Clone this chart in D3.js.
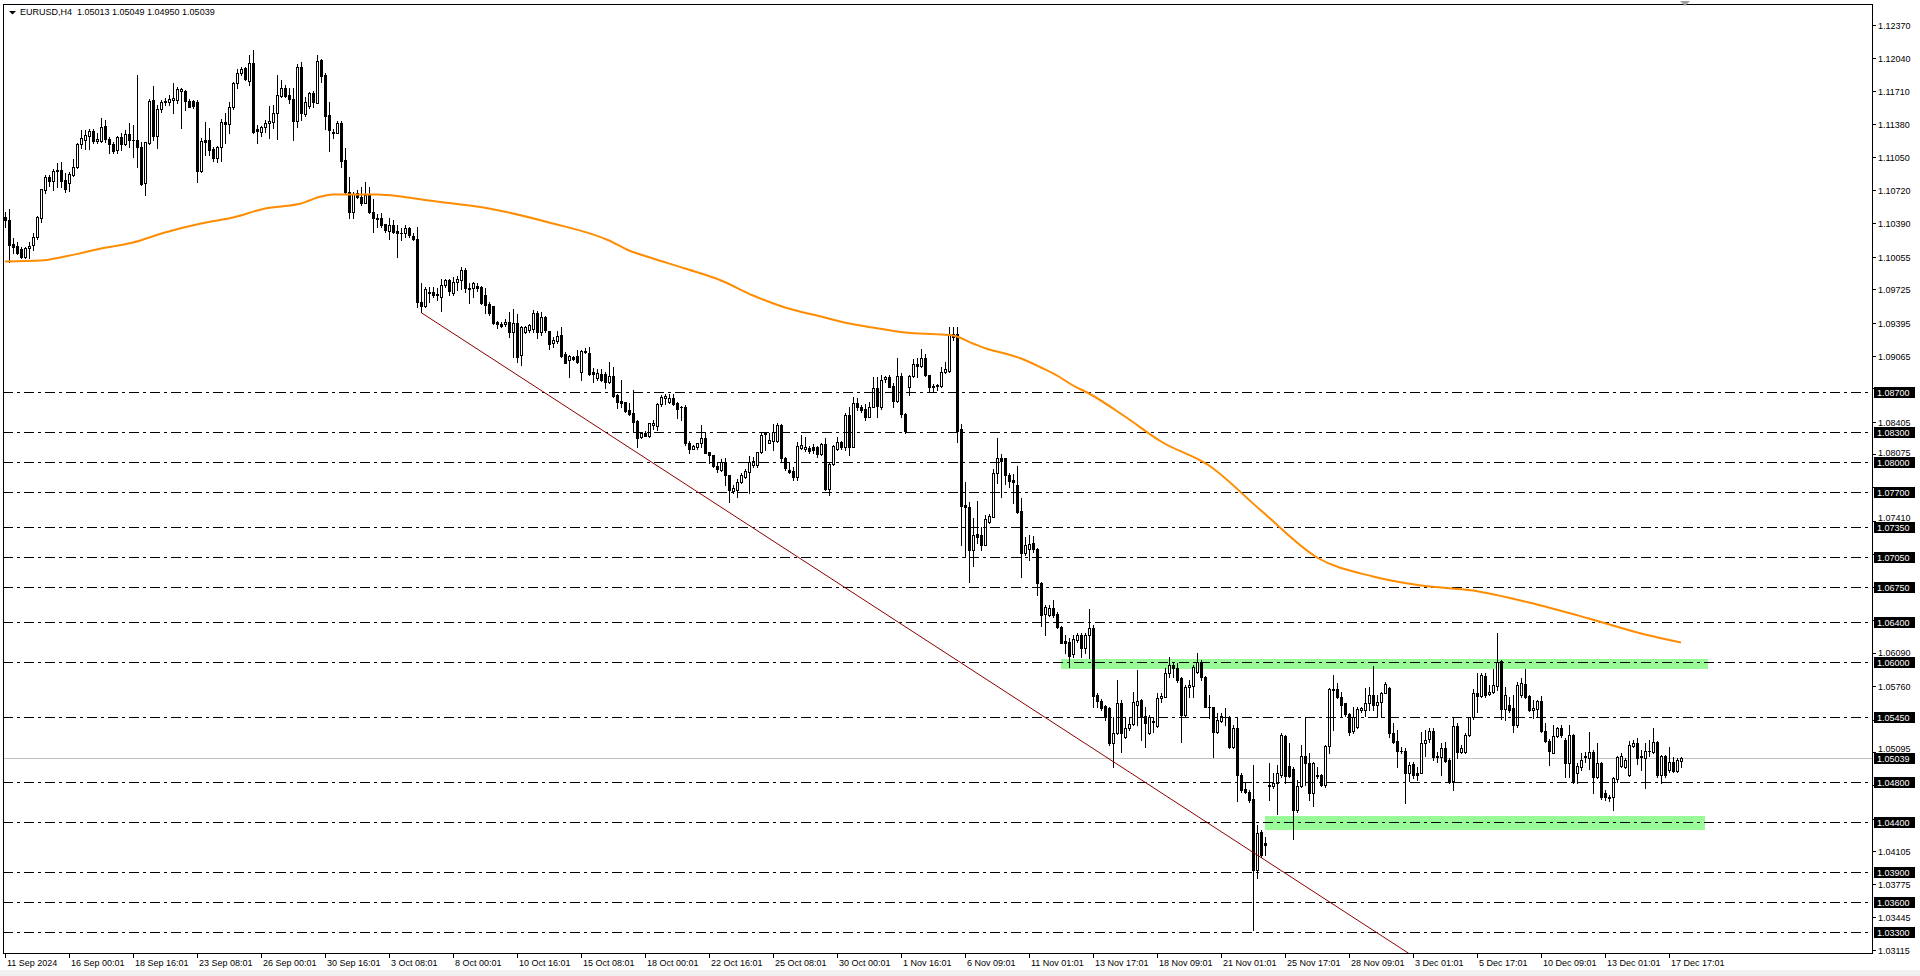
<!DOCTYPE html>
<html><head><meta charset="utf-8">
<script src="https://cdn.jsdelivr.net/npm/d3@7/dist/d3.min.js"></script>
<style>
body{margin:0;background:#fff;overflow:hidden}
svg{display:block}
text{font-family:"Liberation Sans",Arial,sans-serif;font-size:9px}
</style></head><body>
<svg id="chart" width="1920" height="976"></svg>
<script>
// ---------- DATA (prices in pips: 11045 = 1.1045) ----------
const symbolTitle = "EURUSD,H4";
const lastBarText = ["1.05013", "1.05049", "1.04950", "1.05039"];
const open = [11045,11042,11018,11016,11013,11005,11014,11017,11025,11044,11072,11085,11081,11091,11092,11082,11079,11087,11095,11118,11122,11126,11131,11121,11121,11136,11123,11118,11112,11125,11118,11128,11122,11122,11115,11079,11119,11162,11126,11153,11160,11160,11162,11162,11171,11171,11161,11161,11160,11091,11122,11122,11113,11104,11115,11140,11138,11155,11179,11189,11194,11181,11199,11133,11130,11135,11139,11140,11149,11166,11174,11167,11163,11141,11195,11148,11156,11169,11159,11202,11187,11147,11130,11129,11139,11102,11070,11050,11069,11065,11059,11068,11050,11044,11044,11038,11031,11037,11031,11029,11029,11034,11026,11023,10960,10956,10970,10970,10967,10965,10977,10982,10969,10980,10982,10992,10974,10974,10976,10975,10967,10958,10956,10940,10938,10938,10940,10930,10939,10907,10930,10932,10933,10949,10930,10945,10931,10919,10921,10927,10908,10902,10905,10906,10890,10910,10909,10890,10884,10888,10888,10880,10886,10867,10861,10860,10852,10849,10841,10825,10829,10826,10837,10836,10858,10864,10860,10864,10859,10855,10855,10819,10813,10815,10819,10824,10810,10807,10796,10792,10800,10787,10771,10772,10780,10785,10790,10797,10797,10810,10829,10819,10821,10821,10837,10804,10792,10791,10785,10814,10813,10814,10815,10815,10808,10818,10773,10798,10813,10820,10815,10847,10815,10859,10855,10853,10845,10855,10874,10855,10883,10885,10876,10861,10886,10848,10875,10886,10898,10896,10904,10887,10876,10877,10876,10890,10891,10928,10928,10833,10757,10755,10712,10728,10727,10717,10740,10745,10789,10804,10804,10787,10782,10777,10751,10709,10713,10719,10713,10679,10648,10647,10654,10648,10635,10621,10620,10608,10622,10627,10614,10627,10634,10567,10561,10556,10554,10519,10529,10559,10525,10534,10538,10557,10562,10546,10529,10540,10536,10564,10565,10589,10597,10594,10584,10547,10575,10576,10590,10600,10585,10555,10555,10530,10541,10545,10545,10515,10534,10487,10473,10470,10463,10392,10430,10419,10477,10476,10479,10487,10526,10496,10493,10452,10476,10506,10499,10469,10487,10487,10477,10516,10572,10573,10565,10559,10548,10531,10535,10552,10552,10559,10567,10557,10560,10569,10574,10529,10521,10511,10511,10489,10498,10489,10489,10519,10523,10531,10506,10505,10514,10502,10481,10536,10510,10510,10527,10545,10569,10566,10586,10568,10570,10576,10601,10553,10557,10554,10537,10567,10578,10566,10552,10553,10561,10531,10521,10509,10526,10534,10522,10499,10527,10489,10495,10506,10504,10510,10485,10499,10469,10465,10465,10483,10496,10495,10487,10516,10519,10506,10504,10511,10510,10520,10487,10506,10492,10500,10491,10501];
const high = [11050,11053,11024,11020,11015,11015,11020,11029,11046,11073,11087,11087,11093,11099,11100,11089,11090,11103,11119,11132,11132,11133,11133,11129,11144,11142,11125,11120,11126,11129,11132,11139,11137,11187,11120,11120,11163,11176,11157,11162,11164,11167,11179,11175,11174,11172,11163,11162,11162,11124,11140,11134,11115,11116,11143,11149,11160,11180,11193,11195,11195,11207,11212,11137,11136,11142,11156,11157,11187,11182,11177,11174,11174,11198,11200,11165,11170,11171,11207,11203,11189,11160,11133,11141,11141,11114,11085,11070,11072,11075,11080,11075,11063,11048,11049,11038,11044,11042,11037,11034,11037,11035,11029,11035,10979,10975,10975,10975,10974,10983,10983,10983,10985,10986,10995,10994,10979,10980,10979,10976,10974,10960,10956,10941,10940,10943,10950,10953,10948,10936,10936,10938,10952,10951,10950,10946,10931,10925,10931,10935,10910,10907,10906,10912,10912,10914,10915,10894,10893,10893,10890,10900,10895,10868,10882,10860,10859,10872,10842,10830,10831,10839,10842,10859,10867,10868,10868,10868,10860,10856,10857,10821,10817,10819,10837,10829,10810,10807,10799,10803,10804,10787,10777,10783,10789,10793,10806,10805,10810,10829,10829,10829,10838,10839,10838,10805,10799,10795,10820,10827,10825,10816,10818,10816,10819,10824,10799,10817,10825,10821,10849,10855,10865,10864,10857,10858,10860,10885,10885,10887,10886,10887,10879,10904,10889,10849,10887,10903,10904,10913,10908,10887,10878,10878,10895,10900,10935,10935,10935,10838,10780,10760,10744,10761,10735,10747,10748,10793,10824,10808,10804,10789,10788,10796,10764,10725,10727,10726,10714,10680,10657,10657,10662,10650,10636,10627,10624,10627,10629,10629,10629,10653,10637,10569,10563,10557,10555,10545,10582,10562,10545,10545,10570,10592,10563,10555,10547,10545,10569,10569,10594,10605,10600,10599,10585,10577,10582,10597,10609,10602,10586,10567,10555,10549,10549,10554,10546,10537,10545,10489,10479,10472,10497,10437,10432,10425,10499,10489,10497,10529,10527,10519,10495,10482,10517,10545,10509,10500,10495,10488,10517,10574,10587,10579,10570,10559,10549,10555,10555,10555,10574,10575,10596,10567,10570,10580,10575,10539,10532,10515,10514,10500,10500,10495,10530,10532,10534,10534,10510,10519,10520,10504,10545,10539,10517,10529,10545,10573,10589,10589,10589,10577,10593,10629,10602,10575,10565,10567,10580,10584,10593,10567,10562,10562,10566,10539,10523,10537,10535,10537,10524,10537,10528,10499,10509,10510,10530,10512,10519,10500,10472,10467,10485,10506,10509,10504,10521,10522,10524,10512,10519,10522,10534,10521,10507,10507,10515,10505,10504,10505];
const low = [11035,11000,11009,11008,11004,11004,11004,11012,11023,11040,11069,11076,11072,11075,11075,11070,11071,11086,11094,11114,11113,11113,11119,11119,11120,11120,11109,11109,11109,11112,11117,11115,11105,11095,11077,11067,11118,11122,11114,11150,11157,11157,11149,11159,11134,11152,11155,11154,11080,11090,11107,11107,11101,11100,11101,11119,11129,11153,11174,11187,11182,11177,11129,11119,11126,11130,11124,11134,11123,11165,11165,11159,11122,11135,11142,11146,11154,11155,11159,11180,11133,11111,11124,11129,11095,11069,11044,11044,11064,11057,11059,11049,11030,11035,11035,11030,11023,11029,11005,11022,11025,11025,11022,10955,10950,10955,10960,10965,10962,10951,10975,10967,10967,10972,10973,10970,10959,10965,10971,10958,10949,10947,10938,10934,10935,10936,10925,10905,10900,10897,10929,10930,10930,10924,10927,10930,10913,10915,10919,10905,10899,10885,10902,10899,10882,10909,10887,10880,10882,10881,10874,10879,10865,10854,10855,10850,10847,10830,10815,10824,10826,10825,10833,10832,10856,10858,10859,10857,10844,10842,10817,10809,10813,10813,10815,10809,10799,10795,10790,10791,10777,10760,10769,10765,10779,10784,10769,10795,10795,10809,10812,10819,10812,10820,10800,10792,10789,10782,10782,10813,10811,10809,10809,10805,10807,10772,10767,10797,10812,10813,10812,10807,10815,10852,10850,10842,10845,10855,10845,10853,10880,10875,10855,10860,10845,10829,10867,10885,10885,10895,10886,10871,10870,10872,10875,10889,10890,10922,10820,10717,10705,10680,10696,10719,10712,10717,10739,10745,10779,10765,10778,10775,10759,10749,10685,10707,10702,10710,10667,10636,10627,10646,10645,10634,10619,10609,10595,10605,10620,10605,10609,10604,10555,10555,10552,10542,10517,10495,10528,10510,10524,10532,10537,10537,10522,10515,10528,10530,10535,10560,10565,10585,10585,10580,10520,10545,10565,10565,10589,10582,10555,10544,10505,10529,10540,10537,10514,10514,10461,10470,10469,10460,10332,10384,10405,10407,10462,10474,10448,10485,10479,10485,10423,10450,10475,10477,10462,10456,10484,10476,10475,10509,10532,10564,10545,10546,10527,10529,10534,10550,10546,10552,10552,10546,10545,10569,10525,10519,10495,10509,10459,10481,10484,10482,10489,10506,10520,10502,10500,10487,10500,10479,10472,10504,10509,10509,10526,10543,10550,10565,10565,10567,10569,10572,10543,10542,10550,10530,10535,10565,10564,10551,10544,10545,10530,10520,10497,10509,10525,10525,10485,10485,10479,10479,10492,10500,10493,10469,10484,10463,10462,10461,10452,10480,10495,10494,10486,10515,10498,10492,10474,10506,10509,10485,10479,10485,10490,10490,10490,10495];
const close = [11042,11017,11015,11009,11005,11014,11016,11025,11045,11073,11085,11081,11091,11092,11081,11073,11088,11095,11118,11124,11127,11131,11121,11123,11135,11123,11118,11111,11125,11118,11128,11122,11122,11115,11078,11120,11161,11126,11153,11160,11161,11163,11164,11173,11173,11161,11155,11156,11091,11121,11120,11112,11104,11115,11140,11138,11155,11179,11189,11193,11183,11199,11130,11131,11135,11139,11141,11149,11167,11174,11166,11163,11141,11195,11149,11160,11169,11160,11201,11186,11146,11132,11129,11139,11101,11070,11050,11068,11065,11059,11067,11050,11044,11043,11037,11032,11037,11030,11029,11029,11034,11027,11023,10960,10956,10973,10969,10967,10968,10977,10982,10971,10980,10983,10992,10974,10973,10979,10974,10959,10957,10949,10939,10938,10936,10940,10930,10939,10905,10935,10935,10937,10949,10930,10945,10932,10918,10922,10926,10906,10899,10906,10903,10900,10911,10911,10888,10888,10889,10882,10880,10886,10866,10860,10859,10851,10848,10840,10824,10829,10826,10839,10839,10858,10865,10866,10864,10858,10853,10855,10819,10813,10816,10819,10824,10809,10807,10796,10793,10800,10787,10772,10774,10780,10787,10791,10800,10801,10810,10827,10828,10822,10830,10837,10804,10794,10790,10785,10816,10817,10815,10811,10812,10808,10818,10773,10798,10816,10820,10815,10847,10815,10859,10855,10852,10845,10855,10874,10856,10882,10885,10875,10861,10886,10848,10831,10886,10898,10896,10904,10887,10875,10875,10876,10890,10893,10928,10925,10831,10756,10755,10712,10727,10725,10717,10743,10746,10789,10804,10801,10787,10781,10780,10750,10709,10717,10718,10713,10679,10647,10655,10654,10647,10635,10619,10619,10606,10623,10627,10614,10627,10634,10566,10561,10554,10545,10519,10529,10559,10529,10534,10538,10560,10561,10545,10539,10545,10541,10564,10566,10589,10597,10594,10582,10547,10575,10577,10595,10600,10585,10555,10555,10530,10542,10546,10545,10515,10534,10487,10472,10470,10462,10392,10429,10407,10417,10476,10479,10489,10527,10486,10486,10452,10476,10506,10499,10469,10499,10486,10477,10516,10573,10573,10565,10557,10548,10530,10545,10553,10554,10559,10567,10557,10560,10569,10578,10529,10520,10511,10511,10489,10497,10487,10487,10519,10522,10531,10505,10505,10514,10501,10480,10536,10510,10514,10527,10545,10569,10566,10587,10567,10570,10577,10600,10553,10567,10552,10537,10577,10579,10565,10552,10554,10561,10531,10521,10511,10526,10534,10527,10499,10527,10480,10496,10502,10505,10510,10485,10499,10465,10465,10464,10484,10505,10506,10502,10517,10519,10504,10505,10511,10511,10520,10487,10506,10487,10500,10491,10502,10504];

// moving average read at sample bars
const maBars   = [0,9,15,24,32,40,49,57,65,74,79,82,93,99,106,121,136,151,156,162,170,179,187,195,204,211,217,225,234,237,242,246,250,254,259,263,267,271,280,289,301,314,328,342,354,367,381,396,410,419];
const maValues = [11001,11002,11006,11014,11020,11030,11039,11045,11054,11059,11066,11068,11068,11066,11062,11054,11040,11022,11012,11004,10994,10982,10967,10955,10946,10939,10935,10930,10928,10927,10919,10913,10909,10904,10895,10887,10877,10869,10846,10821,10797,10752,10705,10686,10677,10672,10660,10644,10628,10620];

// horizontal levels
const levels = [1.08700,1.08300,1.08000,1.07700,1.07350,1.07050,1.06750,1.06400,1.06000,1.05450,1.04800,1.04400,1.03900,1.03600,1.03300];
const bidPrice = 1.05039;

// trend line anchors (bar index, price)
const trendBars = [104, 272];
const trendPrices = [1.09500, 1.05140];

// zones: [startBar, endBar], [top, bottom]
const zoneBars = [[264, 425.75], [315, 424.9]];
const zonePrices = [[1.06030, 1.05940], [1.04460, 1.04330]];

// price axis ticks
const priceTicks = [1.12370,1.12040,1.11710,1.11380,1.11050,1.10720,1.10390,1.10055,1.09725,1.09395,1.09065,1.08735,1.08405,1.08075,1.07745,1.07410,1.07080,1.06750,1.06420,1.06090,1.05760,1.05425,1.05095,1.04765,1.04435,1.04105,1.03775,1.03445,1.03115];

// time axis labels, one every 16 bars
const timeLabels = ["11 Sep 2024","16 Sep 00:01","18 Sep 16:01","23 Sep 08:01","26 Sep 00:01","30 Sep 16:01","3 Oct 08:01","8 Oct 00:01","10 Oct 16:01","15 Oct 08:01","18 Oct 00:01","22 Oct 16:01","25 Oct 08:01","30 Oct 00:01","1 Nov 16:01","6 Nov 09:01","11 Nov 01:01","13 Nov 17:01","18 Nov 09:01","21 Nov 01:01","25 Nov 17:01","28 Nov 09:01","3 Dec 01:01","5 Dec 17:01","10 Dec 09:01","13 Dec 01:01","17 Dec 17:01"];
const labelEvery = 16;

// ---------- DRAW ----------
const svg = d3.select("#chart");
const PLOT = {left: 3, top: 4, right: 1872, bottom: 953};
const x = d3.scaleLinear().domain([0, 419]).range([5, 1681]);
const y = d3.scaleLinear().domain([1.033, 1.087]).range([932.5, 392.5]);
const row = p => Math.round(y(p) - 0.5);
const P = v => v / 10000;

svg.append("rect").attr("width",1920).attr("height",976).attr("fill","#fff");
svg.append("defs").append("clipPath").attr("id","plot").append("rect")
  .attr("x",PLOT.left).attr("y",PLOT.top).attr("width",PLOT.right-PLOT.left).attr("height",PLOT.bottom-PLOT.top);

const g = svg.append("g").attr("clip-path","url(#plot)");

// zones (background)
zoneBars.forEach((b, k) => {
  const x0 = Math.round(x(b[0])), x1 = Math.round(x(b[1]));
  const t = row(zonePrices[k][0]), bt = row(zonePrices[k][1]);
  g.append("rect").attr("x",x0).attr("y",t).attr("width",x1-x0).attr("height",bt-t+1).attr("fill","#98fb98");
});

// bid line
g.append("line").attr("x1",PLOT.left).attr("x2",PLOT.right)
  .attr("y1",row(bidPrice)+0.5).attr("y2",row(bidPrice)+0.5)
  .attr("stroke","#c0c0c0").attr("stroke-width",1);

// candles
const bars = d3.range(open.length).map(i => ({i, o:P(open[i]), h:P(high[i]), l:P(low[i]), c:P(close[i])}));
const cg = g.append("g");
bars.forEach(d => {
  const cx = Math.round(x(d.i));
  cg.append("line").attr("x1",cx+0.5).attr("x2",cx+0.5)
    .attr("y1",row(d.h)).attr("y2",row(d.l)+1).attr("stroke","#000").attr("stroke-width",1);
  const rt = row(Math.max(d.o,d.c)), rb = row(Math.min(d.o,d.c));
  if (rb - rt < 1) {
    cg.append("line").attr("x1",cx-1).attr("x2",cx+2).attr("y1",rt+0.5).attr("y2",rt+0.5)
      .attr("stroke","#000").attr("stroke-width",1);
  } else {
    cg.append("rect").attr("x",cx-0.5).attr("y",rt+0.5).attr("width",2).attr("height",rb-rt)
      .attr("fill", d.c < d.o ? "#000" : "#fff").attr("stroke","#000").attr("stroke-width",1);
  }
});

// level lines
levels.forEach(p => {
  g.append("line").attr("x1",PLOT.left).attr("x2",PLOT.right)
    .attr("y1",row(p)+0.5).attr("y2",row(p)+0.5)
    .attr("stroke","#000").attr("stroke-width",1).attr("stroke-dasharray","10,4,3,4");
});

// moving average
const ma = maBars.map((b,k)=>[x(b), y(P(maValues[k]))]);
g.append("path").attr("d", d3.line().curve(d3.curveMonotoneX)(ma))
  .attr("fill","none").attr("stroke","#ff8c00").attr("stroke-width",2);

// trend line, extended to plot bottom
{
  const x0 = x(trendBars[0]), y0 = y(trendPrices[0]);
  const x1 = x(trendBars[1]), y1 = y(trendPrices[1]);
  const slope = (y1-y0)/(x1-x0);
  const xe = x0 + (PLOT.bottom + 5 - y0)/slope;
  g.append("line").attr("x1",x0).attr("y1",y0).attr("x2",xe).attr("y2",PLOT.bottom+5)
    .attr("stroke","#8b0000").attr("stroke-width",1);
}

// frame
svg.append("rect").attr("x",PLOT.left+0.5).attr("y",PLOT.top+0.5)
  .attr("width",PLOT.right-PLOT.left).attr("height",PLOT.bottom-PLOT.top)
  .attr("fill","none").attr("stroke","#000").attr("stroke-width",1);

// price axis (tick labels that sit fully under a level box are covered, as in the terminal;
// labels touching a box are nudged clear of it)
const boxed = [...levels, bidPrice];
priceTicks.forEach(p => {
  const r = row(p);
  svg.append("line").attr("x1",PLOT.right).attr("x2",PLOT.right+4).attr("y1",r+0.5).attr("y2",r+0.5).attr("stroke","#000");
  const nearest = boxed.reduce((a, b) => Math.abs(row(b) - r) < Math.abs(row(a) - r) ? b : a);
  const br = row(nearest), dist = Math.abs(br - r);
  if (dist < 5.5) return;
  let base = r + 4;
  if (dist < 14) {
    if (r < br) base = Math.min(base, br - 6);
    else base = Math.max(base, br + 15);
  }
  svg.append("text").attr("x",PLOT.right+6).attr("y",base).attr("fill","#000").text(p.toFixed(5));
});
boxed.forEach(p => {
  const r = row(p);
  svg.append("rect").attr("x",PLOT.right+2).attr("y",r-5).attr("width",41).attr("height",11).attr("fill","#000");
  svg.append("text").attr("x",PLOT.right+5).attr("y",r+4).attr("fill","#fff").text(p.toFixed(5));
});

// time axis
timeLabels.forEach((t,k) => {
  const xx = Math.round(x(k*labelEvery));
  svg.append("line").attr("x1",xx+0.5).attr("x2",xx+0.5).attr("y1",PLOT.bottom).attr("y2",PLOT.bottom+5).attr("stroke","#000");
  svg.append("text").attr("x",xx+2).attr("y",PLOT.bottom+13).attr("fill","#000").text(t);
});

// title
svg.append("path").attr("d","M9,11 L16,11 L12.5,14.5 Z").attr("fill","#000");
svg.append("text").attr("x",20).attr("y",15).attr("fill","#000")
  .text(symbolTitle + "\u00a0\u00a0" + lastBarText.join(" "));

// window edges
svg.append("rect").attr("x",0).attr("y",970).attr("width",1920).attr("height",6).attr("fill","#f0f0f0");
svg.append("path").attr("d","M1680,1 L1690,1 L1685,6 Z").attr("fill","#a0a0a0");
</script></body></html>
